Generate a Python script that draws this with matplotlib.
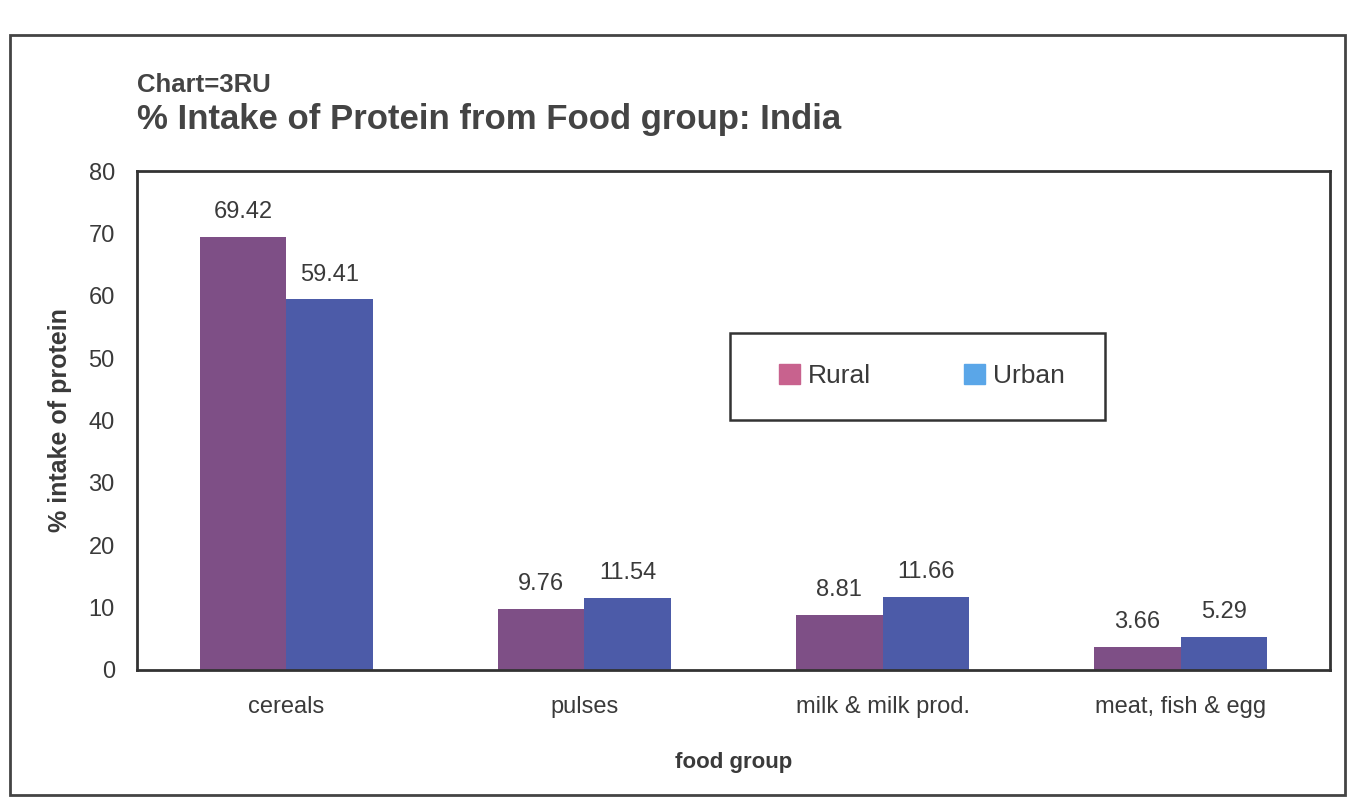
import matplotlib
matplotlib.use("Agg")
import matplotlib.pyplot as plt
from matplotlib.patches import Patch, Rectangle
import numpy as np

categories = ["cereals", "pulses", "milk & milk prod.", "meat, fish & egg"]
rural = [69.42, 9.76, 8.81, 3.66]
urban = [59.41, 11.54, 11.66, 5.29]
series_names = ["Rural", "Urban"]
yticks = [0, 10, 20, 30, 40, 50, 60, 70, 80]

plt.rcParams['font.family'] = ['Liberation Sans', 'DejaVu Sans']
txt = '#3a3a3a'

fig = plt.figure(figsize=(13.5, 8), dpi=100)
ax = fig.add_axes([137/1350, 1-670/800, (1330-137)/1350, (670-171)/800])

x = np.arange(len(categories))
w = 0.29
c_r = '#7E4F86'
c_u = '#4C5BA8'
b1 = ax.bar(x - w/2, rural, w, color=c_r)
b2 = ax.bar(x + w/2, urban, w, color=c_u)

for bars, vals in ((b1, rural), (b2, urban)):
    for b, v in zip(bars, vals):
        ax.annotate(f"{v:.2f}", (b.get_x() + b.get_width()/2, v),
                    xytext=(0, 10), textcoords='offset points',
                    ha='center', va='bottom', fontsize=17, color=txt)

ax.set_xlim(-0.5, len(categories) - 0.5)
ax.set_ylim(0, 80)
ax.set_yticks(yticks)
ax.set_xticks(x)
ax.set_xticklabels(categories)
ax.tick_params(axis='both', length=0, labelsize=17, labelcolor=txt)
ax.tick_params(axis='y', pad=16)
ax.tick_params(axis='x', pad=19)
for s in ax.spines.values():
    s.set_linewidth(2)
    s.set_color('#333333')

ax.set_ylabel("% intake of protein", fontsize=18, fontweight='bold', color=txt, labelpad=12)
ax.set_xlabel("food group", fontsize=16, fontweight='bold', color=txt, labelpad=24)

# legend box
ax.add_patch(Rectangle((0.497, 0.501), 0.314, 0.174, transform=ax.transAxes,
                       fill=False, edgecolor='#333333', linewidth=1.8, zorder=5))
handles = [Patch(color='#C8628E'), Patch(color='#5AA6E8')]
leg = ax.legend(handles, series_names, ncol=2, loc='center',
                bbox_to_anchor=(0.658, 0.589), frameon=False,
                fontsize=19, handlelength=0.8, handleheight=0.8,
                handletextpad=0.3, columnspacing=3.5)
for t in leg.get_texts():
    t.set_color(txt)

fig.text(137/1350, 1-85/800, "Chart=3RU", fontsize=18.5, fontweight='bold',
         color='#444444', ha='left', va='center')
fig.text(137/1350, 1-120/800, "% Intake of Protein from Food group: India",
         fontsize=25, fontweight='bold', color='#444444', ha='left', va='center')

fig.patches.append(Rectangle((10/1350, 5/800), 1335/1350, 760/800,
                             transform=fig.transFigure, fill=False,
                             edgecolor='#444444', linewidth=2))

fig.savefig("out.png", dpi=100)
